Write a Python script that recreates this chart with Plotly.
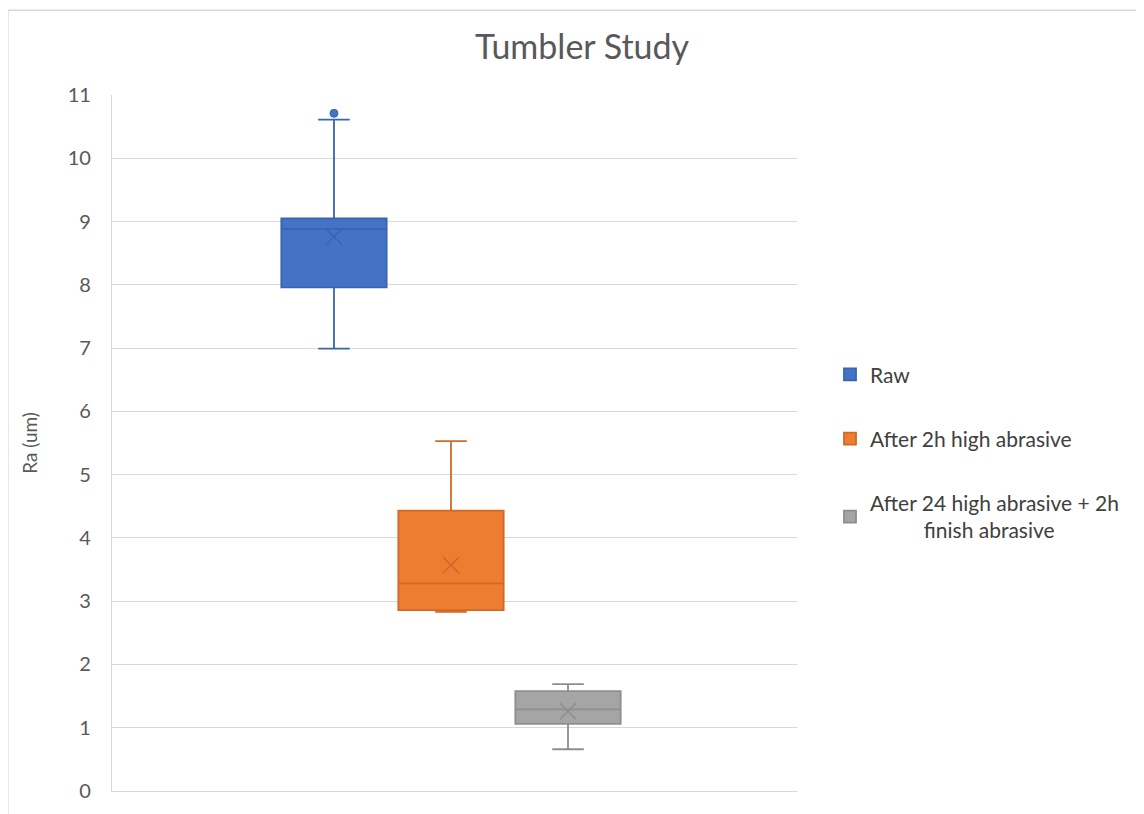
import plotly.graph_objects as go

series = ["Raw", "After 2h high abrasive", "After 24 high abrasive + 2h<br>          finish abrasive"]
q1 = [7.96, 2.86, 1.06]
median = [8.88, 3.28, 1.29]
q3 = [9.05, 4.43, 1.58]
lowerfence = [6.99, 2.83, 0.66]
upperfence = [10.61, 5.53, 1.69]
means = [8.76, 3.57, 1.26]
outlier_series = [0]
outlier_values = [10.71]

fills = ["#4472C4", "#ED7D31", "#A5A5A5"]
lines = ["#3A64B0", "#D06A27", "#8E8E8E"]

fig = go.Figure()
for i, name in enumerate(series):
    fig.add_trace(go.Box(
        x=[i], q1=[q1[i]], median=[median[i]], q3=[q3[i]],
        lowerfence=[lowerfence[i]], upperfence=[upperfence[i]],
        name=name, fillcolor=fills[i], line=dict(color=lines[i], width=1.8),
        width=0.9, whiskerwidth=0.3, boxpoints=False,
        legendgroup=str(i),
    ))
    fig.add_trace(go.Scatter(
        x=[i], y=[means[i]], mode="markers", showlegend=False, legendgroup=str(i),
        marker=dict(symbol="x-thin-open", size=16, color=lines[i], line=dict(color=lines[i], width=1.6)),
        hoverinfo="skip",
    ))
for s, v in zip(outlier_series, outlier_values):
    fig.add_trace(go.Scatter(
        x=[s], y=[v], mode="markers", showlegend=False, legendgroup=str(s),
        marker=dict(symbol="circle", size=8, color=fills[s], line=dict(color=lines[s], width=1)),
    ))

# figure is placed 8px into the page by the browser's body margin
W, H = 1136, 806
L, T = 104, 87
R = W - 789
B = H - 785
pw, ph = 789 - L, 785 - T

font = "Lato, 'Open Sans', sans-serif"
fig.update_layout(
    width=W, height=H,
    margin=dict(l=L, r=R, t=T, b=B),
    paper_bgcolor="white", plot_bgcolor="white",
    font=dict(family=font, color="#595959", size=16),
    title=dict(text="Tumbler Study", x=574/W, xanchor="center", y=1-39/H, yanchor="middle",
               font=dict(size=34, color="#595959")),
    xaxis=dict(range=[-1.897, 3.957], showticklabels=False, showgrid=False, zeroline=False,
               showline=True, linecolor="#D9D9D9", linewidth=1.3, fixedrange=True),
    yaxis=dict(range=[0, 11], dtick=1, showgrid=True, gridcolor="#D9D9D9", gridwidth=1.3,
               zeroline=False, showline=True, linecolor="#D9D9D9", linewidth=1.3,
               ticks="", ticklabelstandoff=16,
               title=dict(text="Ra (um)", font=dict(size=19, color="#595959"), standoff=24),
               tickfont=dict(size=20, color="#595959")),
    legend=dict(x=(822-L)/pw, xanchor="left", y=(785-347)/ph, yanchor="top",
                traceorder="grouped", tracegroupgap=34, font=dict(size=21, color="#404040"),
                itemwidth=30),
    showlegend=True,
)
fig.add_shape(type="line", xref="paper", yref="paper", x0=-L/pw, x1=-L/pw,
              y0=-0.1, y1=(785-2)/ph, line=dict(color="#D9D9D9", width=1.3))
fig.add_shape(type="line", xref="paper", yref="paper", x0=-L/pw, x1=1.6,
              y0=(785-2)/ph, y1=(785-2)/ph, line=dict(color="#D9D9D9", width=1.3))

fig.write_html("out.html")
